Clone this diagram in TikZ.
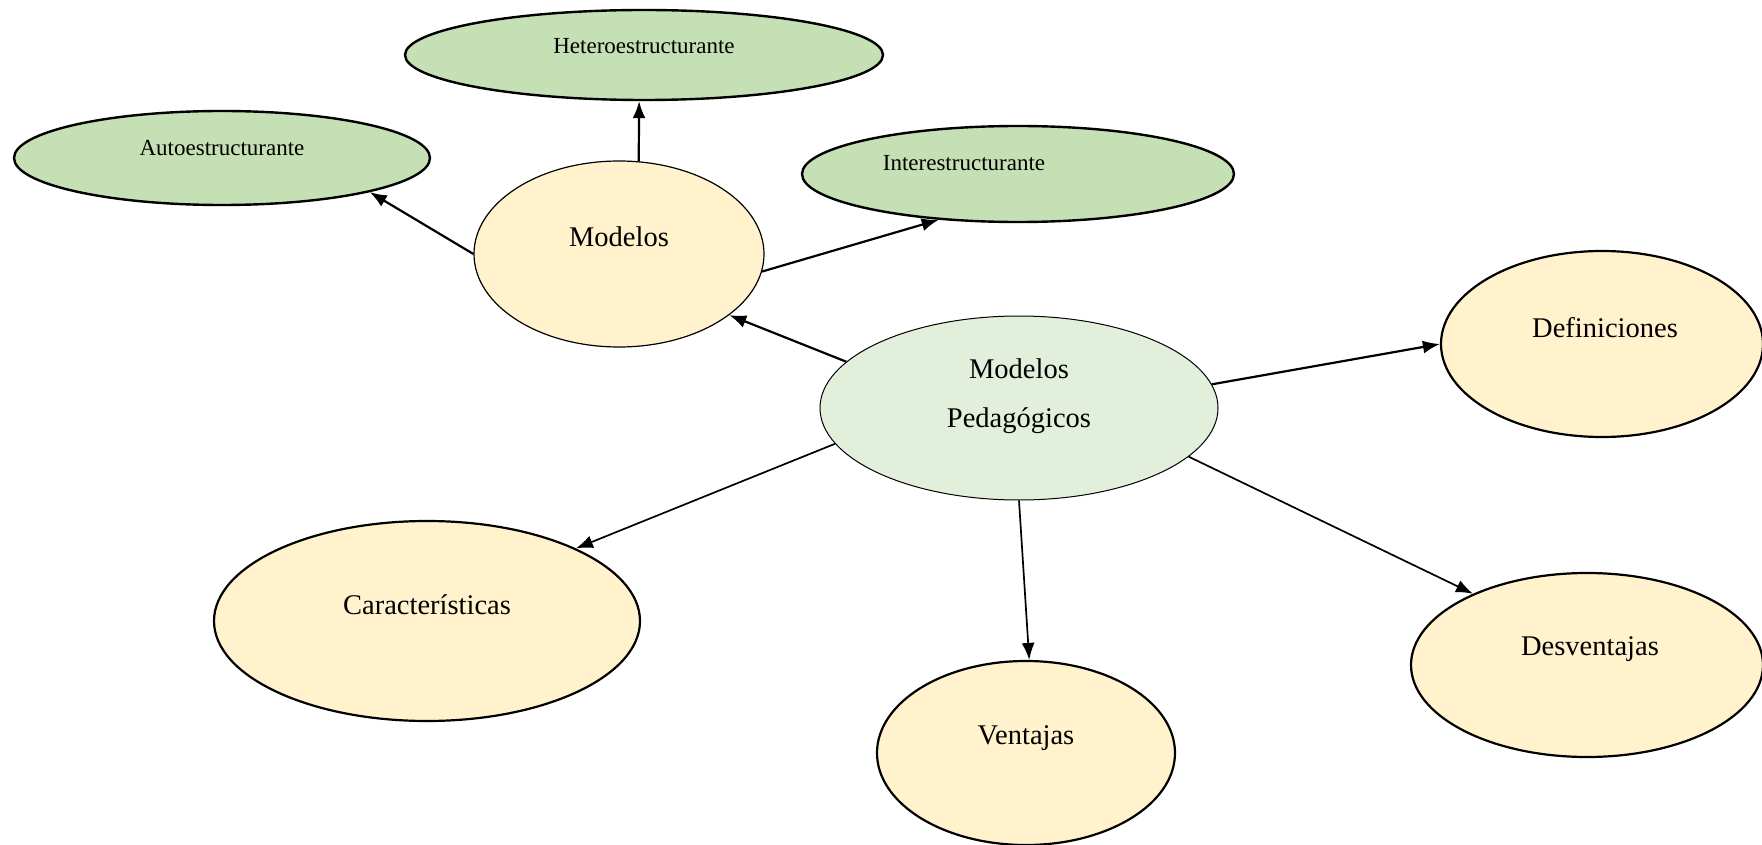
\documentclass[tikz,border=0pt]{standalone}
\usepackage{fontspec}
\setmainfont{Liberation Serif}
\usetikzlibrary{shapes.geometric,arrows.meta}
\definecolor{gfill}{HTML}{C5E0B4}
\definecolor{yfill}{HTML}{FFF2CC}
\definecolor{mfill}{HTML}{E2EFDA}
\tikzset{
  oval/.style={ellipse, draw=black, inner sep=0pt},
  greenoval/.style={oval, fill=gfill, line width=2.4pt},
  yellowoval/.style={oval, fill=yfill, line width=2.2pt},
  smalltext/.style={font=\fontsize{23}{27}\selectfont, inner sep=0pt},
  bigtext/.style={font=\fontsize{28.5}{49}\selectfont, inner sep=0pt, align=center},
  conn/.style={line width=2.2pt, -{Latex[length=17pt,width=13pt]}},
  thinconn/.style={line width=1.7pt, -{Latex[length=17pt,width=13pt]}}
}
\begin{document}
\begin{tikzpicture}[x=1pt,y=-1pt]
\useasboundingbox (0,0) rectangle (1762,845);
% ellipses
\node[greenoval, minimum width=478pt, minimum height=90pt] (hetero) at (644,55) {};
\node[greenoval, minimum width=416pt, minimum height=94pt] (auto) at (222,158) {};
\node[greenoval, minimum width=432pt, minimum height=96pt] (inter) at (1018,174) {};
\node[oval, fill=yfill, line width=1.2pt, minimum width=290pt, minimum height=186pt] (modelos) at (619,254) {};
\node[oval, fill=mfill, line width=1.0pt, minimum width=398pt, minimum height=184pt] (mp) at (1019,408) {};
\node[yellowoval, minimum width=322pt, minimum height=186pt] (def) at (1602,344) {};
\node[yellowoval, minimum width=426pt, minimum height=200pt] (car) at (427,621) {};
\node[yellowoval, minimum width=298pt, minimum height=184pt] (ven) at (1026,753) {};
\node[yellowoval, minimum width=352pt, minimum height=184pt] (des) at (1587,665) {};
% texts
\node[smalltext] (theter) at (644,46) {Heteroestructurante};
\node[smalltext] (tauto) at (222,148) {Autoestructurante};
\node[smalltext] (tinter) at (964,163) {Interestructurante};
\node[bigtext] (tmodelos) at (619,237) {Modelos};
\node[bigtext] (tmp) at (1019,396) {Modelos\\Pedagógicos};
\node[bigtext] (tdef) at (1605,328) {Definiciones};
\node[bigtext] (tcar) at (427,605) {Características};
\node[bigtext] (tven) at (1026,738) {Ventajas};
\node[bigtext] (tdes) at (1590,649) {Desventajas};
% connectors
\draw[conn] (modelos.78) -- (hetero.264);
\draw[conn] (modelos.180) -- (auto.-13);
\draw[conn] (modelos.-7) -- (inter.-150);
\draw[conn] (mp.165.6) -- (modelos.-29.6);
\draw[conn] (mp.7) -- (def.180);
\draw[thinconn] (mp.191.8) -- (car.26.6);
\draw[thinconn] (mp.270) -- (ven.88);
\draw[thinconn] (mp.-16) -- (des.148.8);
\end{tikzpicture}
\end{document}
